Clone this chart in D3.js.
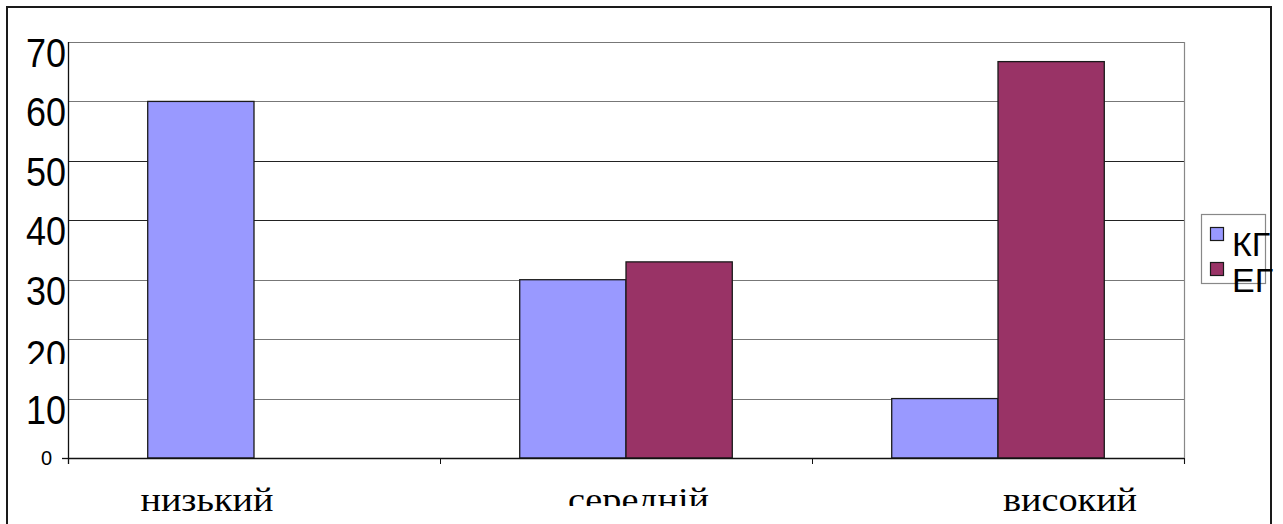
<!DOCTYPE html>
<html>
<head>
<meta charset="utf-8">
<script src="https://cdn.jsdelivr.net/npm/d3@7"></script>
<style>
  html, body { margin: 0; padding: 0; background: #fff; }
  svg { display: block; }
</style>
</head>
<body>
<svg id="chart" width="1283" height="524"></svg>
<script>
// ---- data ----
const categories = ["низький", "середній", "високий"];
const seriesNames = ["КГ", "ЕГ"];
const kgValues = [60, 30, 10];
const egValues = [0, 33, 66.7];
const yTicks = [0, 10, 20, 30, 40, 50, 60, 70];

// ---- layout ----
const W = 1283, H = 524;
const plot = { left: 68, right: 1184, top: 42, bottom: 458 };
const colors = { "КГ": "#9999FF", "ЕГ": "#993366" };

const svg = d3.select("#chart");
const defs = svg.append("defs");

const x = d3.scaleBand().domain(categories).range([plot.left, plot.right]).paddingInner(0).paddingOuter(0);
const xs = d3.scaleBand().domain(seriesNames).range([0, x.bandwidth()]).paddingInner(0).paddingOuter(0.75);
const y = d3.scaleLinear().domain([0, 70]).range([plot.bottom, plot.top]);

// outer border
svg.append("rect").attr("x", 7).attr("y", 7).attr("width", 1264).attr("height", 600)
  .attr("fill", "none").attr("stroke", "#1a1a1a").attr("stroke-width", 2);

// gridlines
svg.append("g").selectAll("line").data(yTicks.filter(d => d > 0)).join("line")
  .attr("x1", plot.left).attr("x2", plot.right)
  .attr("y1", d => Math.round(y(d)) + 0.5).attr("y2", d => Math.round(y(d)) + 0.5)
  .attr("stroke", d => d === 40 || d === 50 ? "#222" : "#777").attr("stroke-width", 1.2);

// right plot edge
svg.append("line").attr("x1", plot.right + 0.5).attr("x2", plot.right + 0.5)
  .attr("y1", plot.top).attr("y2", plot.bottom + 6).attr("stroke", "#888").attr("stroke-width", 1.2);

// bars
const rows = [];
categories.forEach((c, i) => {
  rows.push({ cat: c, s: "КГ", v: kgValues[i] });
  rows.push({ cat: c, s: "ЕГ", v: egValues[i] });
});
svg.append("g").selectAll("rect").data(rows.filter(d => d.v > 0)).join("rect")
  .attr("x", d => x(d.cat) + xs(d.s))
  .attr("width", xs.bandwidth())
  .attr("y", d => y(d.v))
  .attr("height", d => y(0) - y(d.v))
  .attr("fill", d => colors[d.s])
  .attr("stroke", "#1a1a1a").attr("stroke-width", 1.3);

// axes lines
const xAxis = d3.axisBottom(x).tickSize(6).tickFormat("");
const gx = svg.append("g").attr("transform", `translate(0,${plot.bottom})`).call(xAxis);
gx.selectAll(".tick").remove();
gx.select(".domain").attr("d", `M${plot.left},0.5H${plot.right}`).attr("stroke", "#111").attr("stroke-width", 1.3);
gx.selectAll("line.sep").data([plot.left + x.bandwidth(), plot.left + 2 * x.bandwidth(), plot.right]).join("line")
  .attr("class", "sep").attr("x1", d => d + 0.5).attr("x2", d => d + 0.5).attr("y1", 0).attr("y2", 6)
  .attr("stroke", "#111");

svg.append("line").attr("x1", plot.left + 0.5).attr("x2", plot.left + 0.5)
  .attr("y1", plot.top).attr("y2", plot.bottom + 6).attr("stroke", "#111").attr("stroke-width", 1.3);
svg.append("line").attr("x1", plot.left - 6).attr("x2", plot.left)
  .attr("y1", plot.bottom + 0.5).attr("y2", plot.bottom + 0.5).attr("stroke", "#111").attr("stroke-width", 1.3);

// y tick labels
const yclip = defs.append("clipPath").attr("id", "yclip");
yclip.append("rect").attr("x", 0).attr("y", 0).attr("width", 68).attr("height", 364);
yclip.append("rect").attr("x", 0).attr("y", 388).attr("width", 68).attr("height", 136);
const yl = svg.append("g").attr("clip-path", "url(#yclip)");
yl.selectAll("text").data(yTicks).join("text")
  .attr("transform", d => d === 0
      ? `translate(${plot.left - 16},${y(d) + 7})`
      : `translate(${plot.left - 2},${y(d) + (d === 20 ? 30 : 25)}) scale(1,1.12)`)
  .attr("text-anchor", "end")
  .attr("font-family", "Liberation Sans, Arial, sans-serif")
  .attr("font-size", d => d === 0 ? 20 : 36)
  .attr("fill", "#000")
  .text(d => d);

// category labels (stretched horizontally)
const cclip = defs.append("clipPath").attr("id", "cclip");
cclip.append("rect").attr("x", 0).attr("y", 0).attr("width", W).attr("height", 506);
const cx0 = 548, sx = 1.16;
const cl = svg.append("g").attr("transform", `translate(${cx0},0) scale(${sx},1) translate(${-cx0},0)`);
cl.selectAll("text").data(categories).join("text")
  .attr("x", d => x(d) + x.bandwidth() / 2)
  .attr("y", 511)
  .attr("text-anchor", "middle")
  .attr("font-family", "Liberation Serif, Times New Roman, serif")
  .attr("font-size", 33)
  .attr("fill", "#000")
  .attr("clip-path", (d, i) => i === 1 ? "url(#cclip)" : null)
  .text(d => d);

// legend
const lg = svg.append("g");
lg.append("rect").attr("x", 1201.5).attr("y", 214.5).attr("width", 64).attr("height", 69)
  .attr("fill", "#fff").attr("stroke", "#888").attr("stroke-width", 1.2);
seriesNames.forEach((s, i) => {
  lg.append("rect").attr("x", 1210.5).attr("y", 227.5 + i * 35).attr("width", 13).attr("height", 13)
    .attr("fill", colors[s]).attr("stroke", "#1a1a1a").attr("stroke-width", 1.2);
  lg.append("text").attr("x", 1232).attr("y", 256 + i * 36)
    .attr("font-family", "Liberation Sans, Arial, sans-serif")
    .attr("font-size", 34).attr("fill", "#000").text(s);
});
</script>
</body>
</html>
